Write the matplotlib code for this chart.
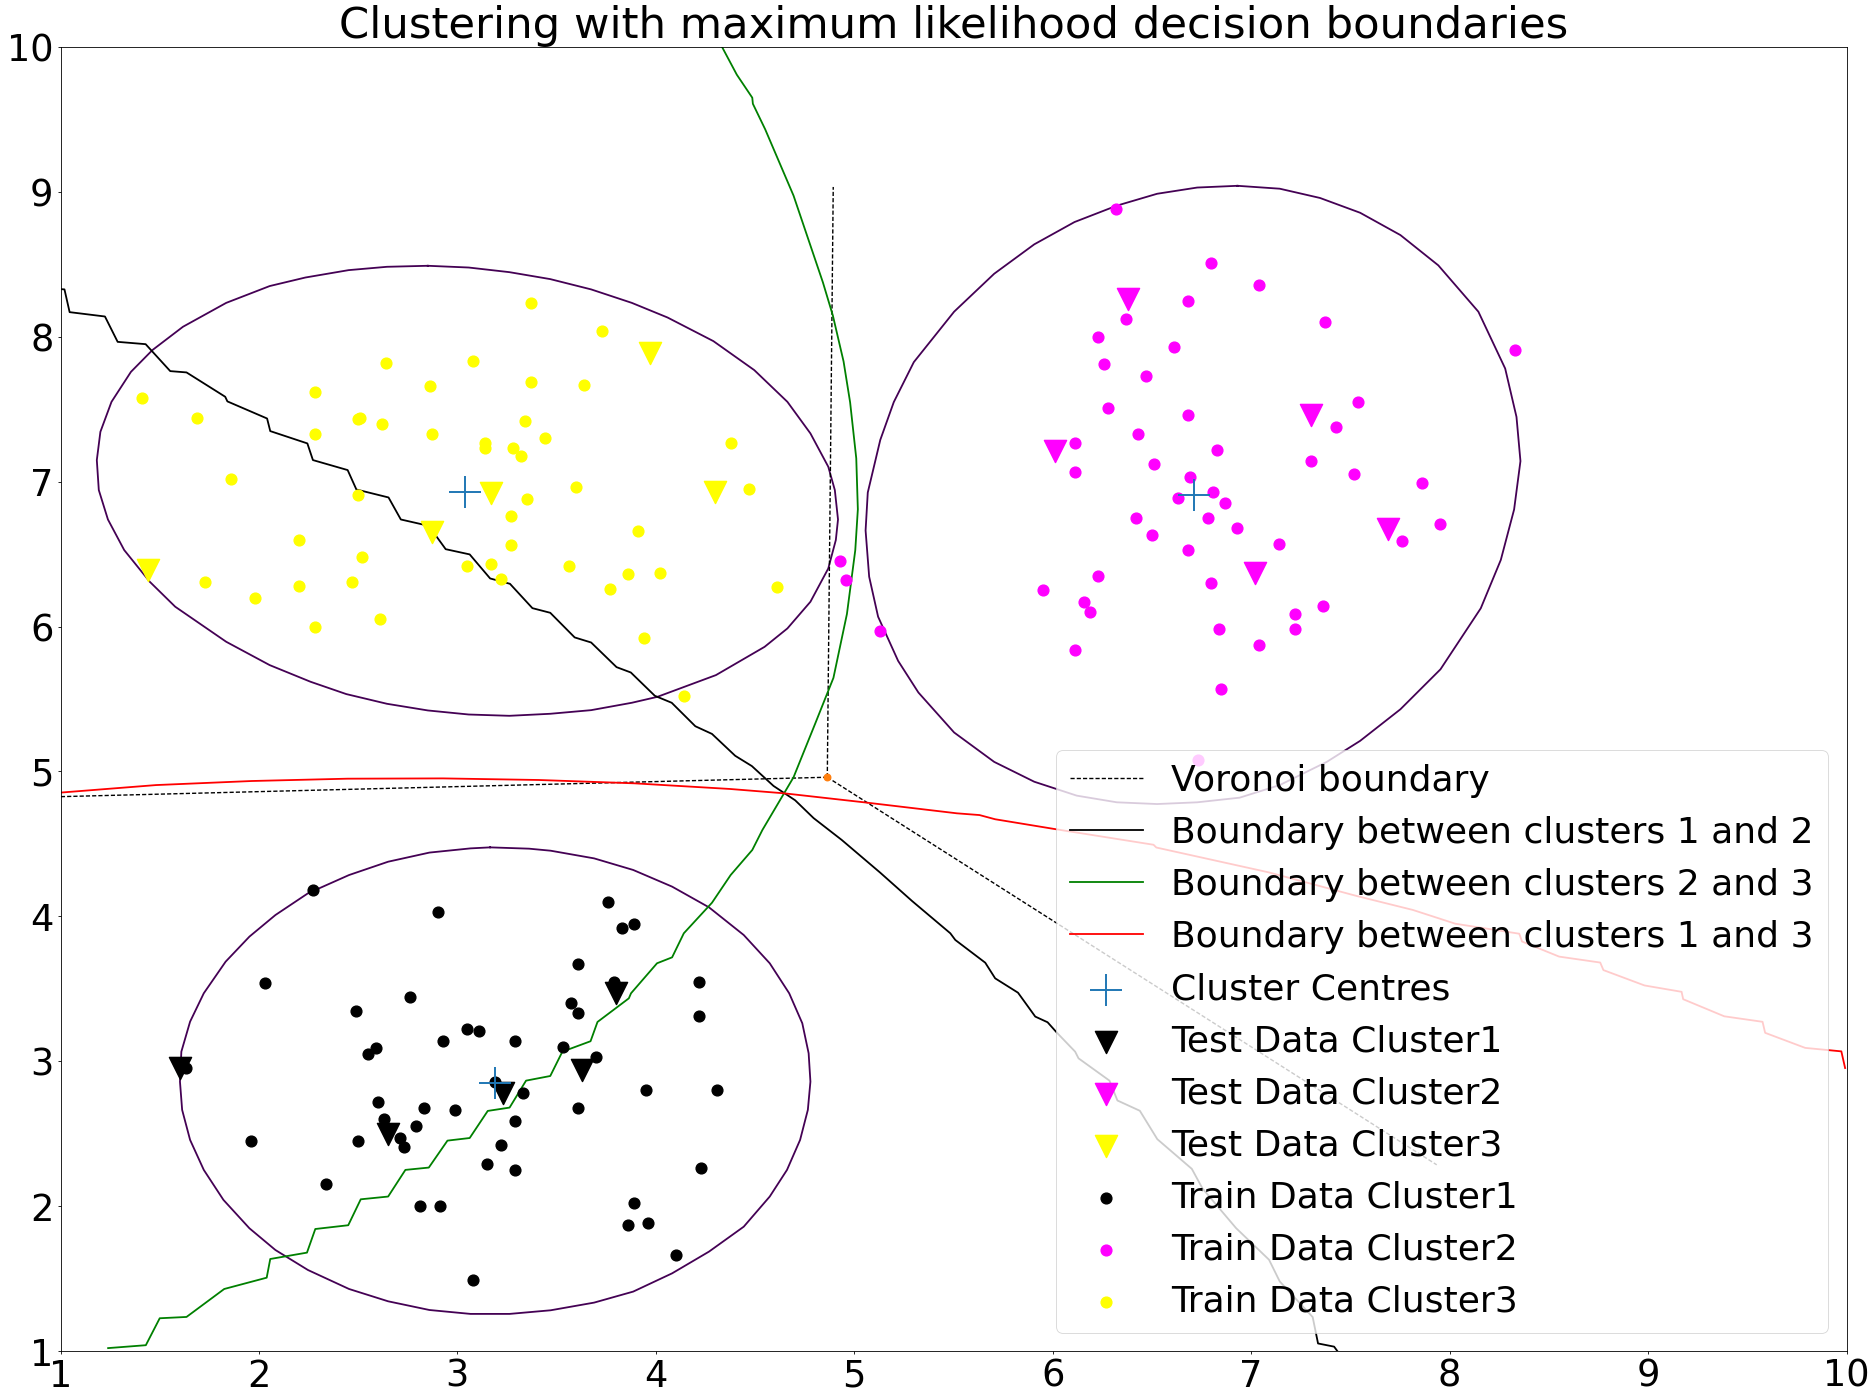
import matplotlib
matplotlib.use("Agg")
import matplotlib.pyplot as plt

# train data
train1_x = [2.27,2.90,3.76,3.83,3.89,3.61,2.03,2.76,2.49,3.57,3.61,3.79,4.22,4.22,3.05,3.11,2.93,3.29,2.59,2.55,3.53,3.70,1.63,3.19,3.95,4.31,3.33,2.60,2.83,3.61,2.63,3.29,2.99,2.79,2.50,1.96,2.71,2.73,3.22,3.15,3.29,4.23,2.34,2.81,2.91,3.89,3.86,3.96,4.10,3.08]
train1_y = [4.18,4.03,4.10,3.92,3.95,3.67,3.54,3.44,3.35,3.40,3.33,3.55,3.55,3.31,3.22,3.21,3.14,3.14,3.09,3.05,3.10,3.03,2.95,2.86,2.80,2.80,2.78,2.72,2.68,2.68,2.60,2.59,2.66,2.55,2.45,2.45,2.47,2.41,2.42,2.29,2.25,2.26,2.15,2.00,2.00,2.02,1.87,1.88,1.66,1.49]
train2_x = [6.32,6.80,7.04,7.37,8.33,6.68,6.37,6.23,6.61,6.26,6.47,6.28,6.68,6.43,6.11,6.83,6.51,6.11,6.69,6.81,6.63,6.87,6.42,6.78,6.93,6.50,6.68,7.14,6.23,5.95,6.80,6.16,6.19,6.11,6.84,7.22,7.36,7.22,7.04,6.85,6.73,7.54,7.43,7.30,7.52,7.86,7.95,7.76,4.93,4.96,5.13]
train2_y = [8.88,8.51,8.36,8.10,7.91,8.25,8.12,8.00,7.93,7.81,7.73,7.51,7.46,7.33,7.27,7.22,7.12,7.07,7.03,6.93,6.89,6.85,6.75,6.75,6.68,6.63,6.53,6.57,6.35,6.25,6.30,6.17,6.10,5.84,5.98,6.09,6.14,5.98,5.87,5.57,5.08,7.55,7.38,7.14,7.05,6.99,6.71,6.59,6.45,6.32,5.97]
train3_x = [1.41,1.69,1.86,1.73,1.98,2.20,2.20,2.28,2.28,2.28,2.47,2.50,2.52,2.50,2.51,2.62,2.64,2.61,2.86,2.87,3.08,3.14,3.14,3.28,3.32,3.34,3.37,3.37,3.44,3.73,3.64,3.60,3.35,3.27,3.27,3.05,3.17,3.22,3.56,3.77,3.86,4.02,3.91,3.94,4.38,4.47,4.61,4.14]
train3_y = [7.58,7.44,7.02,6.31,6.20,6.60,6.28,7.62,7.33,6.00,6.31,6.91,6.48,7.43,7.44,7.40,7.82,6.05,7.66,7.33,7.83,7.27,7.23,7.23,7.18,7.42,7.69,8.23,7.30,8.04,7.67,6.96,6.88,6.76,6.56,6.42,6.43,6.33,6.42,6.26,6.36,6.37,6.66,5.92,7.27,6.95,6.27,5.52]

# test data
test1_x = [1.60,2.65,3.23,3.63,3.80]
test1_y = [2.95,2.50,2.78,2.94,3.47]
test2_x = [6.38,6.01,7.30,7.02,7.69]
test2_y = [8.26,7.21,7.46,6.37,6.67]
test3_x = [1.44,2.87,3.17,4.30,3.97]
test3_y = [6.39,6.65,6.92,6.93,7.89]

centre_x = [3.04,6.71,3.19]
centre_y = [6.93,6.91,2.85]

# contours round each cluster
contour3_x = [2.851,3.057,3.262,3.468,3.674,3.879,4.059,4.290,4.496,4.663,4.779,4.869,4.902,4.918,4.907,4.869,4.779,4.663,4.548,4.303,4.008,3.879,3.674,3.468,3.262,3.057,2.851,2.645,2.440,2.260,2.054,1.835,1.578,1.450,1.321,1.239,1.193,1.183,1.201,1.257,1.355,1.463,1.617,1.835,2.054,2.234,2.452,2.645,2.851]
contour3_y = [8.490,8.478,8.446,8.398,8.327,8.234,8.133,7.970,7.770,7.551,7.333,7.103,6.942,6.739,6.597,6.401,6.171,5.987,5.860,5.665,5.515,5.474,5.423,5.398,5.384,5.393,5.421,5.467,5.534,5.619,5.734,5.895,6.137,6.309,6.528,6.739,6.942,7.149,7.344,7.551,7.758,7.908,8.069,8.234,8.350,8.409,8.460,8.483,8.490]
contour2_x = [6.931,7.144,7.347,7.549,7.752,7.943,8.145,8.280,8.337,8.357,8.325,8.258,8.157,7.954,7.752,7.549,7.381,7.144,6.942,6.728,6.526,6.323,6.121,5.907,5.705,5.503,5.323,5.221,5.120,5.075,5.057,5.068,5.131,5.199,5.300,5.503,5.705,5.907,6.110,6.323,6.526,6.728,6.931]
contour2_y = [9.042,9.022,8.958,8.856,8.702,8.493,8.173,7.781,7.447,7.142,6.808,6.460,6.126,5.705,5.429,5.211,5.066,4.906,4.819,4.787,4.775,4.787,4.833,4.929,5.066,5.269,5.545,5.763,6.068,6.344,6.663,6.925,7.288,7.549,7.825,8.173,8.435,8.638,8.792,8.905,8.987,9.030,9.042]
contour1_x = [3.165,3.361,3.470,3.689,3.886,4.082,4.268,4.443,4.574,4.672,4.738,4.770,4.779,4.766,4.727,4.661,4.574,4.443,4.268,4.082,3.886,3.689,3.470,3.263,3.066,2.859,2.651,2.454,2.247,2.083,1.952,1.821,1.722,1.653,1.613,1.602,1.609,1.653,1.722,1.832,1.952,2.083,2.247,2.454,2.651,2.859,3.066,3.165]
contour1_y = [4.476,4.467,4.453,4.400,4.320,4.205,4.062,3.871,3.676,3.469,3.262,3.055,2.859,2.664,2.457,2.250,2.066,1.858,1.686,1.536,1.410,1.334,1.281,1.256,1.256,1.283,1.343,1.428,1.559,1.697,1.847,2.043,2.250,2.457,2.664,2.859,3.066,3.273,3.469,3.687,3.860,4.009,4.159,4.285,4.377,4.440,4.469,4.476]

# decision boundaries
bound12_x = [1.00,1.02,1.046,1.224,1.288,1.429,1.553,1.635,1.830,1.841,2.041,2.057,2.244,2.272,2.447,2.491,2.653,2.715,2.856,2.941,3.062,3.165,3.265,3.378,3.468,3.591,3.674,3.802,3.874,3.995,4.080,4.199,4.283,4.400,4.484,4.593,4.702,4.795,4.937,5.131,5.291,5.484,5.509,5.660,5.710,5.825,5.912,5.974,6.021,6.113,6.130,6.286,6.326,6.439,6.527,6.701,6.755,6.924,7.090,7.144,7.310,7.337,7.418,7.434]
bound12_y = [8.329,8.327,8.170,8.140,7.965,7.949,7.763,7.754,7.586,7.554,7.436,7.349,7.264,7.149,7.080,6.946,6.891,6.739,6.695,6.534,6.498,6.332,6.295,6.127,6.095,5.925,5.890,5.720,5.683,5.522,5.474,5.312,5.259,5.108,5.037,4.900,4.801,4.678,4.527,4.301,4.106,3.883,3.837,3.680,3.572,3.473,3.308,3.269,3.197,3.066,3.020,2.866,2.729,2.658,2.462,2.257,2.121,1.848,1.630,1.480,1.234,1.052,1.030,1.000]
bound23_x = [1.24,1.43,1.50,1.635,1.825,2.039,2.057,2.242,2.284,2.450,2.513,2.651,2.738,2.856,2.950,3.062,3.153,3.263,3.346,3.468,3.529,3.671,3.706,3.864,3.875,4.006,4.082,4.141,4.283,4.377,4.486,4.537,4.694,4.803,4.895,4.963,5.005,5.018,5.010,4.979,4.946,4.892,4.842,4.694,4.551,4.489,4.486,4.408,4.333]
bound23_y = [1.02,1.04,1.226,1.235,1.428,1.506,1.635,1.679,1.842,1.868,2.047,2.066,2.250,2.266,2.452,2.470,2.657,2.680,2.866,2.898,3.066,3.138,3.271,3.434,3.469,3.676,3.717,3.883,4.094,4.285,4.458,4.596,4.960,5.330,5.646,6.087,6.527,6.809,7.161,7.548,7.830,8.147,8.375,8.974,9.432,9.608,9.650,9.809,10.002]
bound13_x = [1.00,1.482,1.964,2.446,2.928,3.410,3.892,4.374,4.647,5.049,5.517,5.631,5.710,6.021,6.508,6.522,7.090,7.533,7.815,8.029,8.351,8.365,8.552,8.759,8.775,8.982,9.169,9.177,9.384,9.577,9.590,9.792,9.974,9.993]
bound13_y = [4.854,4.906,4.934,4.950,4.952,4.941,4.918,4.879,4.849,4.787,4.711,4.699,4.670,4.600,4.494,4.475,4.303,4.140,4.044,3.949,3.880,3.826,3.722,3.681,3.629,3.523,3.479,3.428,3.310,3.272,3.196,3.092,3.068,2.953]

# voronoi ridges, all from the one vertex
vertex_x = 4.864
vertex_y = 4.960
ridge_end_x = [4.894,1.00,7.935]
ridge_end_y = [9.034,4.826,2.285]

fig = plt.figure(figsize=(18.75,13.99),dpi=100)
ax = fig.add_axes([60.5/1875,48/1399,1786/1875,1304/1399])

for cx,cy in [(contour1_x,contour1_y),(contour2_x,contour2_y),(contour3_x,contour3_y)]:
    ax.plot(cx,cy,color='#440154',lw=1.3)

for ex,ey in zip(ridge_end_x,ridge_end_y):
    l_vor, = ax.plot([vertex_x,ex],[vertex_y,ey],'k--',lw=1.0,dashes=(3,1.5))
ax.scatter([vertex_x],[vertex_y],color='C1',s=22,zorder=3)

l12, = ax.plot(bound12_x,bound12_y,'k',lw=1.3)
l23, = ax.plot(bound23_x,bound23_y,'g',lw=1.3)
l13, = ax.plot(bound13_x,bound13_y,'r',lw=1.3)

s_c = ax.scatter(centre_x,centre_y,marker='+',s=560,color='C0',linewidths=1.4,zorder=4)
s_t1 = ax.scatter(test1_x,test1_y,marker='v',s=255,color='k',zorder=3)
s_t2 = ax.scatter(test2_x,test2_y,marker='v',s=255,color='magenta',zorder=3)
s_t3 = ax.scatter(test3_x,test3_y,marker='v',s=255,color='yellow',zorder=3)
s_1 = ax.scatter(train1_x,train1_y,s=60,color='k',zorder=3)
s_2 = ax.scatter(train2_x,train2_y,s=60,color='magenta',zorder=3)
s_3 = ax.scatter(train3_x,train3_y,s=60,color='yellow',zorder=3)

ax.set_xlim(1,10)
ax.set_ylim(1,10)
ax.tick_params(labelsize=26.5,length=2.5,width=0.6,pad=2.5)
for sp in ax.spines.values():
    sp.set_linewidth(0.6)
ax.set_title('Clustering with maximum likelihood decision boundaries',fontsize=31.2,pad=4.3)
leg = ax.legend([l_vor,l12,l23,l13,s_c,s_t1,s_t2,s_t3,s_1,s_2,s_3],
          ['Voronoi boundary','Boundary between clusters 1 and 2','Boundary between clusters 2 and 3','Boundary between clusters 1 and 3',
           'Cluster Centres','Test Data Cluster1','Test Data Cluster2','Test Data Cluster3','Train Data Cluster1','Train Data Cluster2','Train Data Cluster3'],
          loc='lower right',fontsize=26)
leg.get_frame().set_linewidth(0.6)
fig.savefig('out.png',dpi=100)
